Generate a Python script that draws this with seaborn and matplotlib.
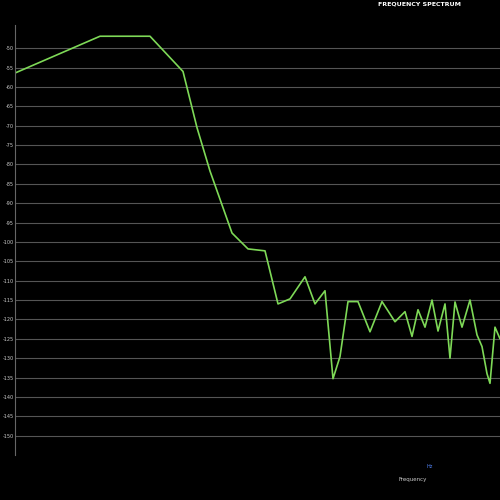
import matplotlib
matplotlib.use("Agg")
import matplotlib.pyplot as plt
import seaborn as sns
import pandas as pd

freq_px = [15,100,150,183,197,210,232,248,265,278,290,305,315,325,333,340,348,358,370,382,395,405,412,418,425,432,438,445,450,455,462,470,477,482,487,490,495,500]
level_db = [-56.4,-46.9,-46.9,-56.0,-70.5,-81.7,-97.7,-101.8,-102.3,-116.0,-114.7,-109.0,-116.0,-112.6,-135.3,-129.6,-115.4,-115.4,-123.2,-115.4,-120.6,-118.0,-124.4,-117.5,-122.0,-115.0,-123.0,-116.0,-130.0,-115.5,-122.0,-115.0,-124.0,-127.0,-134.0,-136.5,-122.0,-125.0]

df = pd.DataFrame({"f": freq_px, "db": level_db})
sns.set_style("dark")
fig, ax = plt.subplots(figsize=(5, 5), dpi=100)
fig.patch.set_facecolor("black")
ax.set_facecolor("black")
fig.subplots_adjust(left=0.03, right=1.0, top=0.95, bottom=0.09)
sns.lineplot(data=df, x="f", y="db", ax=ax, color="#7ed957", linewidth=1.2)
ax.set_xlim(15, 500)
ax.set_ylim(-155, -44)
ticks = list(range(-50, -151, -5))
ax.set_yticks(ticks)
ax.set_yticklabels([str(t) for t in ticks], fontsize=3.5, color="#cccccc")
ax.tick_params(axis="y", length=0, pad=1)
ax.set_xticks([])
ax.grid(axis="y", color="#555555", linewidth=0.8)
ax.grid(axis="x", visible=False)
for s in ["top", "right", "bottom"]:
    ax.spines[s].set_visible(False)
ax.spines["left"].set_color("#666666")
ax.set_xlabel("")
ax.set_ylabel("")
ax.text(0.835, 1.045, "FREQUENCY SPECTRUM", transform=ax.transAxes, fontsize=4.5, color="white", ha="center", fontweight="bold")
ax.text(0.855, -0.03, "Hz", transform=ax.transAxes, fontsize=3.5, color="#5588ff", ha="center")
ax.text(0.82, -0.06, "Frequency", transform=ax.transAxes, fontsize=4, color="#cccccc", ha="center")
fig.savefig("out.png", dpi=100, facecolor="black")
